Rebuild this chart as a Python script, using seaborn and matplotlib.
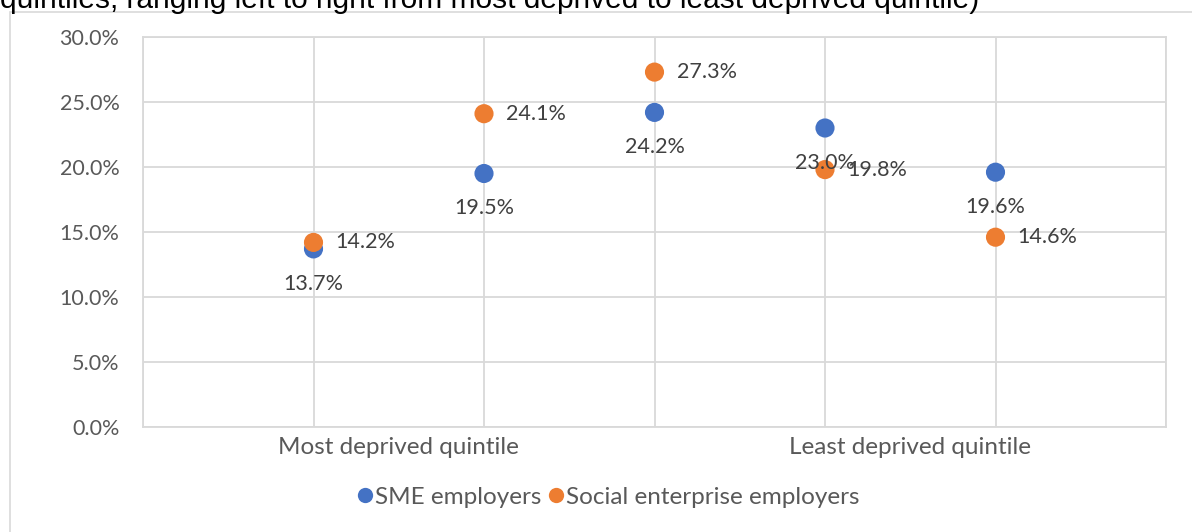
import matplotlib
matplotlib.use("Agg")
import matplotlib.pyplot as plt
from matplotlib.lines import Line2D
from matplotlib.patches import Rectangle
import seaborn as sns
import pandas as pd

# Deprivation quintiles, most deprived (1) to least deprived (5)
quintiles = [1, 2, 3, 4, 5]
sme_employers = [13.7, 19.5, 24.2, 23.0, 19.6]
social_enterprise_employers = [14.2, 24.1, 27.3, 19.8, 14.6]
series_names = ["SME employers", "Social enterprise employers"]
x_tick_positions = [1.5, 4.5]
x_tick_labels = ["Most deprived quintile", "Least deprived quintile"]
y_ticks = [0, 5, 10, 15, 20, 25, 30]

BLUE = "#4472C4"
ORANGE = "#ED7D31"
GRID = "#D9D9D9"
TICK_TXT = "#595959"
LABEL_TXT = "#404040"

df = pd.DataFrame({
    "quintile": quintiles + quintiles,
    "share": sme_employers + social_enterprise_employers,
    "series": [series_names[0]] * len(quintiles) + [series_names[1]] * len(quintiles),
})

sns.set_theme(style="white")
plt.rcParams["font.family"] = ["Lato", "DejaVu Sans"]

W, H = 1192, 532
fig = plt.figure(figsize=(W / 100, H / 100), dpi=100)

# outer chart frame (top and left edges visible)
fig.patches.append(Rectangle((10 / W, -0.05), 1.2, (H - 12) / H + 0.05,
                             transform=fig.transFigure, fill=False,
                             edgecolor=GRID, linewidth=1.2))

# caption above the chart, running off the top edge
fig.text(0.0, 1 - 8 / H,
         "quintiles, ranging left to right from most deprived to least deprived quintile)",
         ha="left", va="baseline", fontsize=21.5, color="#000000",
         family=["Liberation Sans", "DejaVu Sans"])

left, right, top, bottom = 143, 1166, 37, 427
ax = fig.add_axes([left / W, 1 - bottom / H, (right - left) / W, (bottom - top) / H])

sns.scatterplot(data=df, x="quintile", y="share", hue="series",
                palette=[BLUE, ORANGE], s=190, linewidth=0, ax=ax,
                legend=False, zorder=3)

NUM_FS = 15.5
WORD_FS = 17.5

ax.set_xlim(0, 6)
ax.set_ylim(0, 30)
ax.set_xticks(range(0, 7))
ax.set_xticklabels([])
ax.set_yticks(y_ticks)
ax.set_yticklabels([f"{v:.1f}%" for v in y_ticks], color=TICK_TXT, fontsize=NUM_FS)
ax.set_xticks(x_tick_positions, minor=True)
ax.set_xticklabels(x_tick_labels, minor=True, color=TICK_TXT, fontsize=WORD_FS)
ax.tick_params(axis="both", which="both", length=0)
ax.tick_params(axis="y", pad=17)
ax.tick_params(axis="x", which="minor", pad=7)
ax.grid(True, which="major", color=GRID, linewidth=1.3)
for sp in ax.spines.values():
    sp.set_color(GRID)
    sp.set_linewidth(1.3)
ax.set_xlabel("")
ax.set_ylabel("")

# data labels: SME below the marker, social enterprise to the right
for x, v in zip(quintiles, sme_employers):
    ax.annotate(f"{v:.1f}%", (x, v), xytext=(0, -25), textcoords="offset points",
                ha="center", va="center", fontsize=NUM_FS, color=LABEL_TXT, zorder=4)
for x, v in zip(quintiles, social_enterprise_employers):
    ax.annotate(f"{v:.1f}%", (x, v), xytext=(16, 0), textcoords="offset points",
                ha="left", va="center", fontsize=NUM_FS, color=LABEL_TXT, zorder=4)

handles = [Line2D([], [], marker="o", linestyle="", markersize=11,
                  markerfacecolor=c, markeredgewidth=0) for c in (BLUE, ORANGE)]
fig.legend(handles, series_names, loc="center", bbox_to_anchor=(608 / W, 1 - 497 / H),
           ncol=2, frameon=False, fontsize=WORD_FS, labelcolor=TICK_TXT,
           handletextpad=0.05, columnspacing=0.25, handlelength=0.7)

fig.savefig("out.png", dpi=100)
